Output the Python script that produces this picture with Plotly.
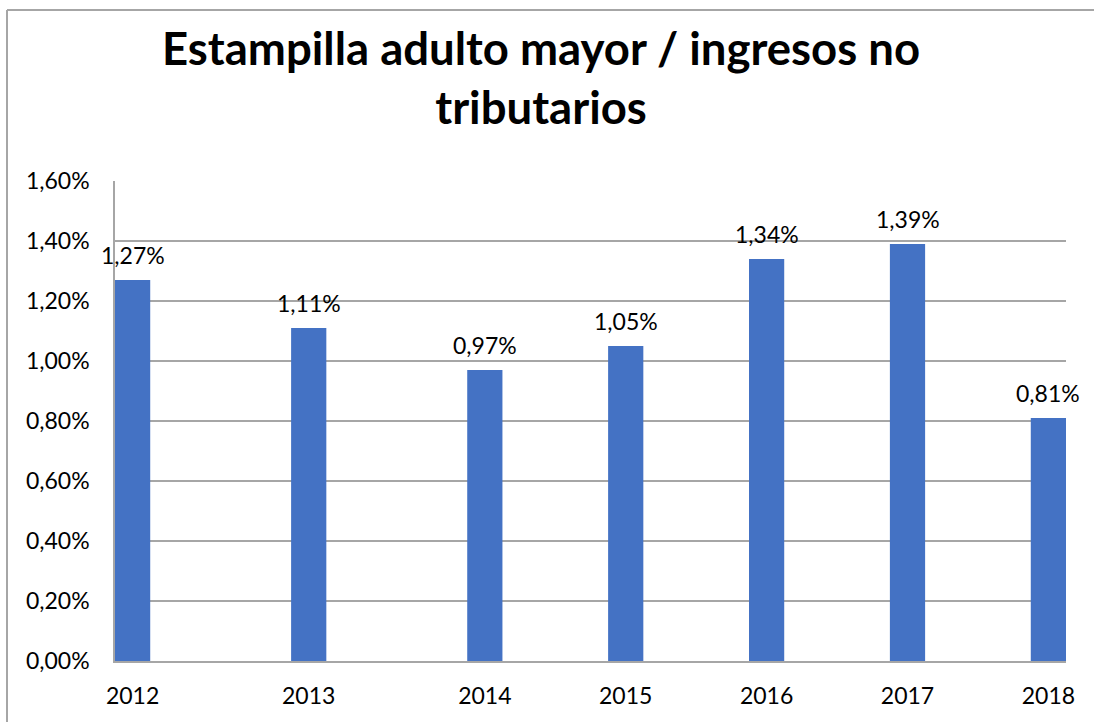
import plotly.graph_objects as go

years = ["2012", "2013", "2014", "2015", "2016", "2017", "2018"]
# positions of the categories along the original (unevenly spaced) axis
axis_pos = [0, 15, 30, 42, 54, 66, 78]
values = [0.0127, 0.0111, 0.0097, 0.0105, 0.0134, 0.0139, 0.0081]
y_ticks = [0, 0.002, 0.004, 0.006, 0.008, 0.010, 0.012, 0.014, 0.016]
title_text = "<b>Estampilla adulto mayor / ingresos no<br>tributarios</b>"

W, H = 1094, 722
ml, mr, mt, mb = 115, 28, 181, 61
pw, ph = W - ml - mr, H - mt - mb
FONT = "Lato, 'Open Sans', sans-serif"

fig = go.Figure(go.Bar(
    x=axis_pos, y=values, width=3,
    marker=dict(color="#4472C4", line=dict(width=0)),
))

label_annotations = [
    dict(x=xp, y=v, xref="x", yref="y", text=f"{v*100:.2f}%".replace(".", ","),
         showarrow=False, xanchor="center", yanchor="bottom", yshift=9,
         font=dict(family=FONT, size=23, color="#000000"))
    for xp, v in zip(axis_pos, values)
]

bx0 = (7 - ml) / pw
by1 = (H - mb - 10) / ph
frame = [
    dict(type="line", xref="paper", yref="paper", x0=bx0, x1=bx0, y0=-0.3, y1=by1,
         line=dict(color="#A6A6A6", width=2), layer="below"),
    dict(type="line", xref="paper", yref="paper", x0=bx0, x1=(W - ml) / pw, y0=by1, y1=by1,
         line=dict(color="#A6A6A6", width=2), layer="below"),
]

fig.update_layout(
    width=W, height=H,
    margin=dict(l=ml, r=mr, t=mt, b=mb, pad=0),
    paper_bgcolor="white", plot_bgcolor="white",
    separators=",.",
    showlegend=False,
    font=dict(family=FONT, size=23, color="#000000"),
    xaxis=dict(
        range=[-1.5, 79.5], tickvals=axis_pos, ticktext=years,
        showgrid=False, zeroline=False, showline=True, linecolor="#A6A6A6", linewidth=1.5,
        ticks="", ticklabelstandoff=14,
        tickfont=dict(family=FONT, size=23, color="#000000"),
    ),
    yaxis=dict(
        range=[0, 0.016], tickvals=y_ticks, tickformat=".2%",
        showgrid=True, gridcolor="#A6A6A6", gridwidth=1.5,
        zeroline=False, showline=True, linecolor="#A6A6A6", linewidth=1.5,
        ticks="", ticklabelstandoff=19,
        tickfont=dict(family=FONT, size=23, color="#000000"),
    ),
    annotations=[dict(
        text=title_text, showarrow=False,
        xref="paper", yref="paper",
        x=(541 - ml) / pw, y=(H - mb - 77) / ph,
        xanchor="center", yanchor="middle",
        font=dict(family=FONT, size=45.5, color="#000000"),
    )] + label_annotations,
    shapes=frame,
)

fig.write_html("out.html", post_script="document.body.style.margin='0';",
               config={"displayModeBar": False})
